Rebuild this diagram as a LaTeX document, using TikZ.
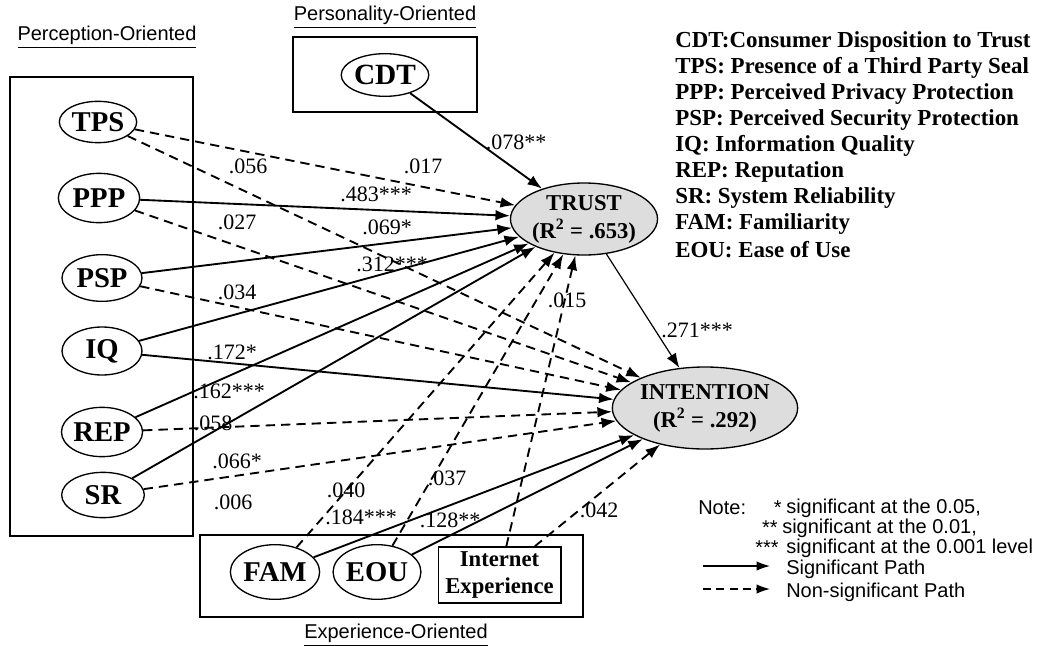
\documentclass[tikz,border=0pt]{standalone}
\usepackage{fontspec}
\setmainfont{Liberation Serif}
\newfontfamily\arialf{Liberation Sans}
\usetikzlibrary{arrows.meta,shapes.geometric}
\definecolor{lgray}{RGB}{221,221,221}
\begin{document}
\begin{tikzpicture}[x=0.75pt,y=-0.75pt,
  var/.style={draw,ellipse,line width=1pt,inner sep=0pt,minimum width=60pt,minimum height=35pt,font=\fontsize{21.5}{23}\selectfont\bfseries},
  dep/.style={draw,ellipse,fill=lgray,line width=1pt,inner sep=0pt,align=center,font=\fontsize{17}{21}\selectfont\bfseries},
  grp/.style={draw,line width=0.9pt},
  sig/.style={line width=1.4pt,-{Latex[length=11pt,width=8pt]}},
  nsig/.style={sig,dash pattern=on 7pt off 4.5pt},
  thinsig/.style={line width=0.9pt,-{Latex[length=11pt,width=8pt]}},
  coef/.style={font=\fontsize{16.5}{18}\selectfont,inner sep=0pt},
  grplabel/.style={font=\arialf\fontsize{15}{17}\selectfont,inner sep=0pt},
  legtxt/.style={font=\fontsize{17.2}{19}\selectfont\bfseries,anchor=west,inner sep=0pt},
  notetxt/.style={font=\arialf\fontsize{15}{17}\selectfont,inner sep=0pt}]
\useasboundingbox (0,0) rectangle (1039,646);

% group boxes
\draw[grp] (10,77) rectangle (193,536);
\draw[grp] (293,37) rectangle (477,112);
\draw[grp] (200,535) rectangle (583,617);
\node[grplabel] (gl1) at (107,37) {\underline{Perception-Oriented}};
\node[grplabel] (gl2) at (385,17) {\underline{Personality-Oriented}};
\node[grplabel] (gl3) at (396,635) {\underline{Experience-Oriented}};

% nodes
\node[var,minimum width=63pt,minimum height=32pt,font=\fontsize{22}{23}\selectfont\bfseries] (CDT) at (385,75) {CDT};
\node[var,minimum width=58pt,minimum height=31pt] (TPS) at (98,122) {TPS};
\node[var,minimum width=61pt,minimum height=37pt] (PPP) at (99,198) {PPP};
\node[var] (PSP) at (102,278) {PSP};
\node[var,minimum height=36pt] (IQ) at (102,351) {IQ};
\node[var,minimum width=55pt,minimum height=37pt] (REP) at (102,432) {REP};
\node[var,minimum width=62pt,minimum height=34pt] (SR) at (103,495) {SR};
\node[dep,minimum width=99pt,minimum height=54pt] (TRUST) at (584,219) {TRUST\\(R\textsuperscript{2} = .653)};
\node[dep,minimum width=139pt,minimum height=61.5pt] (INT) at (705,408) {INTENTION\\(R\textsuperscript{2} = .292)};
\node[var,minimum width=64.5pt,minimum height=41pt] (FAM) at (275,572) {FAM};
\node[var,minimum width=64pt,minimum height=41pt] (EOU) at (377,572) {EOU};
\node[draw,line width=1pt,minimum width=92pt,minimum height=42pt,inner sep=0pt,align=center,font=\fontsize{17}{20}\selectfont\bfseries] (IE) at (499.5,575) {Internet\\Experience};

% paths to TRUST
\draw[sig] (CDT) -- (TRUST);
\draw[nsig] (TPS) -- (TRUST);
\draw[sig] (PPP) -- (TRUST);
\draw[sig] (PSP) -- (TRUST);
\draw[sig] (IQ) -- (TRUST);
\draw[sig] (REP) -- (TRUST);
\draw[sig] (SR) -- (TRUST);
\draw[nsig] (FAM) -- (TRUST);
\draw[nsig] (EOU) -- (TRUST);
\draw[nsig] (IE) -- (TRUST);
% paths to INTENTION
\draw[nsig] (TPS) -- (INT);
\draw[nsig] (PPP) -- (INT);
\draw[nsig] (PSP) -- (INT);
\draw[sig] (IQ) -- (INT);
\draw[nsig] (REP) -- (INT);
\draw[nsig] (SR) -- (INT);
\draw[sig] (FAM) -- (INT);
\draw[sig] (EOU) -- (INT);
\draw[nsig] (IE) -- (INT);
\draw[thinsig] (TRUST) -- (INT);

% coefficients
\node[coef] (c1) at (516,142) {.078**};
\node[coef] (c2) at (423,166) {.017};
\node[coef] (c3) at (376,194) {.483***};
\node[coef] (c4) at (387,227) {.069*};
\node[coef] (c5) at (392,264) {.312***};
\node[coef] (c6) at (567,300) {.015};
\node[coef] (c7) at (248,166) {.056};
\node[coef] (c8) at (237,222) {.027};
\node[coef] (c9) at (237,292) {.034};
\node[coef] (c10) at (232,352) {.172*};
\node[coef] (c11) at (229,391) {.162***};
\node[coef] (c12) at (213,423) {.058};
\node[coef] (c13) at (237,461) {.066*};
\node[coef] (c14) at (233,502) {.006};
\node[coef] (c15) at (346,490) {.040};
\node[coef] (c16) at (447,478) {.037};
\node[coef] (c17) at (361,517) {.184***};
\node[coef] (c18) at (450,520) {.128**};
\node[coef] (c19) at (599,510) {.042};
\node[coef] (c20) at (697,330) {.271***};

% abbreviations legend
\node[legtxt] (l1) at (675,42) {CDT:Consumer Disposition to Trust};
\node[legtxt] (l2) at (675,68) {TPS: Presence of a Third Party Seal};
\node[legtxt] (l3) at (675,94) {PPP: Perceived Privacy Protection};
\node[legtxt] (l4) at (675,120) {PSP: Perceived Security Protection};
\node[legtxt] (l5) at (675,146) {IQ: Information Quality};
\node[legtxt] (l6) at (675,172) {REP: Reputation};
\node[legtxt] (l7) at (675,198) {SR: System Reliability};
\node[legtxt] (l8) at (675,224) {FAM: Familiarity};
\node[legtxt] (l9) at (675,250) {EOU: Ease of Use};

% note legend
\node[notetxt,anchor=west] (n0) at (698,508) {Note:};
\node[notetxt,anchor=east] (s1) at (782,508) {*};
\node[notetxt,anchor=west] (t1) at (786,508) {significant at the 0.05,};
\node[notetxt,anchor=east] (s2) at (778,528) {**};
\node[notetxt,anchor=west] (t2) at (782,528) {significant at the 0.01,};
\node[notetxt,anchor=east] (s3) at (779,548) {***};
\node[notetxt,anchor=west] (t3) at (786,548) {significant at the 0.001 level};
\coordinate (la1) at (703,566);
\coordinate (lb1) at (770,566);
\coordinate (la2) at (703,589);
\coordinate (lb2) at (770,589);
\draw[line width=1pt,-{Latex[length=10pt,width=7pt]}] (la1) -- (lb1);
\draw[line width=1pt,dash pattern=on 6pt off 4pt,-{Latex[length=10pt,width=7pt]}] (la2) -- (lb2);
\node[notetxt,anchor=west] (t4) at (786,569) {Significant Path};
\node[notetxt,anchor=west] (t5) at (786,592) {Non-significant Path};
\end{tikzpicture}
\end{document}
